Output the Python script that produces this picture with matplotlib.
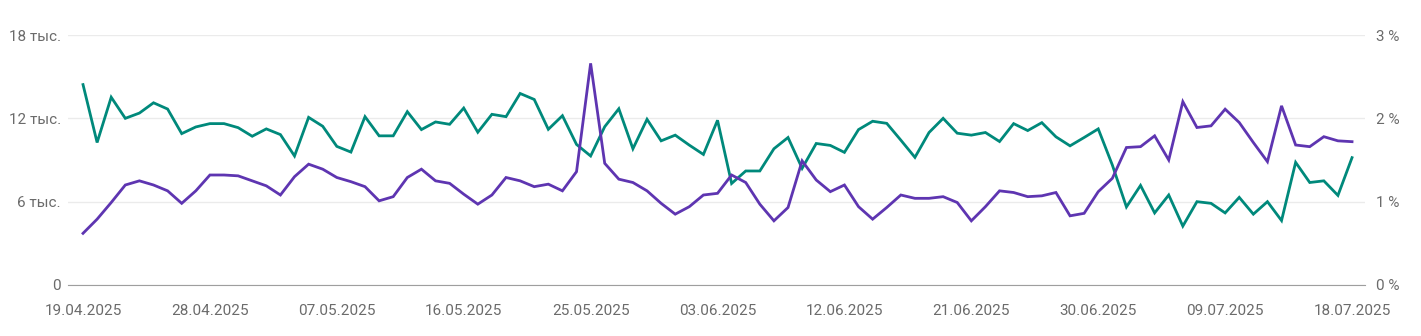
import matplotlib.pyplot as plt
import matplotlib.ticker as mticker
import numpy as np
import pandas as pd

plt.rcParams['font.family'] = ['Roboto', 'DejaVu Sans']

# Daily series, 19.04.2025 - 18.07.2025
dates = pd.date_range('2025-04-19', '2025-07-18', freq='D')

# left axis: thousands
visits = [
    14.43, 10.26, 13.52, 12.00, 12.38, 13.12, 12.67, 10.90, 11.38, 11.62,
    11.62, 11.33, 10.71, 11.24, 10.83, 9.29, 12.07, 11.43, 9.98, 9.57,
    12.12, 10.74, 10.74, 12.48, 11.19, 11.74, 11.57, 12.74, 11.00, 12.29,
    12.12, 13.79, 13.36, 11.21, 12.19, 10.12, 9.29, 11.40, 12.69, 9.81,
    11.93, 10.38, 10.79, 10.07, 9.40, 11.86, 7.31, 8.21, 8.21, 9.81,
    10.62, 8.40, 10.19, 10.05, 9.55, 11.19, 11.79, 11.64, 10.43, 9.19,
    10.98, 12.00, 10.93, 10.79, 10.98, 10.33, 11.62, 11.12, 11.69, 10.67,
    10.02, 10.62, 11.24, 8.64, 5.62, 7.17, 5.19, 6.48, 4.24, 6.00,
    5.88, 5.19, 6.31, 5.10, 6.00, 4.64, 8.83, 7.38, 7.50, 6.45,
    9.17,
]

# right axis: percent
rate = [
    0.62, 0.79, 0.99, 1.20, 1.25, 1.20, 1.13, 0.98, 1.13, 1.32,
    1.32, 1.31, 1.25, 1.19, 1.08, 1.30, 1.45, 1.39, 1.29, 1.24,
    1.18, 1.01, 1.06, 1.29, 1.39, 1.25, 1.22, 1.09, 0.97, 1.08,
    1.29, 1.25, 1.18, 1.21, 1.13, 1.36, 2.66, 1.46, 1.27, 1.23,
    1.13, 0.98, 0.85, 0.94, 1.08, 1.10, 1.32, 1.23, 0.97, 0.77,
    0.93, 1.49, 1.26, 1.12, 1.20, 0.94, 0.79, 0.93, 1.08, 1.04,
    1.04, 1.06, 0.99, 0.77, 0.94, 1.13, 1.11, 1.06, 1.07, 1.11,
    0.83, 0.86, 1.12, 1.28, 1.65, 1.66, 1.79, 1.50, 2.20, 1.89,
    1.91, 2.11, 1.95, 1.71, 1.48, 2.15, 1.68, 1.66, 1.78, 1.73,
    1.72,
]

x = np.arange(len(dates))
tick_idx = x[::9]
tick_labels = [dates[i].strftime('%d.%m.%Y') for i in tick_idx]

GREEN = '#00897b'
PURPLE = '#5e35b1'
TEXT = '#6b6b6b'

fig = plt.figure(figsize=(14.21, 3.36), dpi=100)
ax = fig.add_axes([0.0479, 0.1518, 0.9127, 0.744])
ax2 = ax.twinx()

ax.plot(x, visits, color=GREEN, lw=2.0, solid_joinstyle='miter', zorder=3)
ax2.plot(x, rate, color=PURPLE, lw=2.0, solid_joinstyle='miter', zorder=3)

ax.set_xlim(-1.06, 90.92)
ax.set_ylim(0, 18)
ax2.set_ylim(0, 3)
ax.set_yticks([0, 6, 12, 18])
ax.set_yticklabels(['0', '6 тыс.', '12 тыс.', '18 тыс.'])
ax2.set_yticks([0, 1, 2, 3])
ax2.yaxis.set_major_formatter(mticker.FuncFormatter(lambda v, p: f'{v:.0f} %'))
ax.set_xticks(tick_idx)
ax.set_xticklabels(tick_labels)

ax.grid(axis='y', color='#ebebeb', lw=1)
ax.set_axisbelow(True)
for a in (ax, ax2):
    for s in a.spines.values():
        s.set_visible(False)
    a.tick_params(length=0, colors=TEXT, labelsize=11)
ax.spines['bottom'].set_visible(True)
ax.spines['bottom'].set_color('#9e9e9e')
ax.tick_params(axis='y', pad=5)
ax2.tick_params(axis='y', pad=8)
ax.tick_params(axis='x', pad=14)

fig.savefig('out.png', dpi=100)
